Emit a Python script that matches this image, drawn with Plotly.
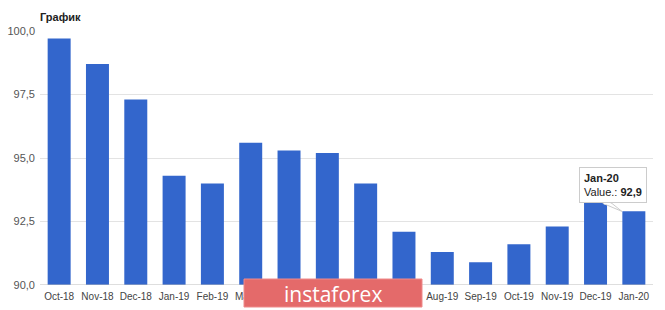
import plotly.graph_objects as go

categories = ["Oct-18", "Nov-18", "Dec-18", "Jan-19", "Feb-19", "Mar-19", "Apr-19", "May-19",
              "Jun-19", "Jul-19", "Aug-19", "Sep-19", "Oct-19", "Nov-19", "Dec-19", "Jan-20"]
values = [99.7, 98.7, 97.3, 94.3, 94.0, 95.6, 95.3, 95.2,
          94.0, 92.1, 91.3, 90.9, 91.6, 92.3, 93.3, 92.9]
y_ticks = [90.0, 92.5, 95.0, 97.5, 100.0]

fig = go.Figure()
fig.add_trace(go.Bar(x=categories, y=values, marker=dict(color="#3366cc", line=dict(width=0)),
                     hoverinfo="skip"))

W, H = 665, 310
ml, mr, mt, mb = 40, 12, 31, 25

fig.update_layout(
    width=W, height=H,
    margin=dict(l=ml, r=mr, t=mt, b=mb),
    paper_bgcolor="white", plot_bgcolor="white",
    separators=", ",
    bargap=0.4,
    showlegend=False,
    font=dict(family="Liberation Sans, Arial, sans-serif", color="#444"),
    title=dict(text="<b>График</b>", x=40 / W, xanchor="left", xref="container",
               y=1 - 17 / H, yanchor="middle", font=dict(size=11, color="#222")),
)
fig.update_xaxes(type="category", showgrid=False, ticks="", tickfont=dict(size=10, color="#444"),
                 showline=False, ticklabelstandoff=4, automargin=False)
fig.update_yaxes(range=[90, 100], tickvals=y_ticks, tickformat=".1f",
                 showgrid=True, gridcolor="#e3e3e3", gridwidth=1,
                 zeroline=False, showline=False, ticks="", ticklabelstandoff=4,
                 automargin=False, tickfont=dict(size=11, color="#555"))
# baseline
fig.add_shape(type="line", xref="paper", yref="y", x0=0, x1=1, y0=90, y1=90,
              line=dict(color="#bdbdbd", width=1), layer="above")

# tooltip
last_cat = categories[-1]
last_val = values[-1]
fig.add_shape(type="path", xref="x", yref="y", xsizemode="pixel", ysizemode="pixel",
              xanchor=len(categories) - 1, yanchor=last_val,
              path="M -31,8 L -12,0 L -22,8 Z",
              fillcolor="white", line=dict(color="#cccccc", width=1), layer="above")
fig.add_annotation(x=last_cat, y=last_val, xref="x", yref="y", showarrow=False,
                   xanchor="right", yanchor="bottom", xshift=13, yshift=8,
                   text="<b>Jan-20</b><br>Value.: <b>92,9</b>", align="left",
                   bgcolor="white", bordercolor="#cccccc", borderwidth=1, borderpad=4,
                   font=dict(size=11, color="#222"))
# cover the border under the tail
fig.add_shape(type="line", xref="x", yref="y", xsizemode="pixel", ysizemode="pixel",
              xanchor=len(categories) - 1, yanchor=last_val,
              x0=-30, x1=-23, y0=8, y1=8, line=dict(color="white", width=2), layer="above")

# watermark
pw = W - ml - mr
ph = H - mt - mb
fig.add_shape(type="rect", xref="paper", yref="paper",
              x0=(244 - ml) / pw, x1=(422 - ml) / pw,
              y0=(H - mb - 307) / ph, y1=(H - mb - 279) / ph,
              fillcolor="#e46a6a", line=dict(color="#ef8a8a", width=1), layer="above")
fig.add_annotation(xref="paper", yref="paper", x=(333 - ml) / pw, y=(H - mb - 294) / ph,
                   text="instaforex", showarrow=False, xanchor="center", yanchor="middle",
                   font=dict(size=21, color="white", family="Open Sans, Liberation Sans, sans-serif"))

fig.write_html("out.html")
